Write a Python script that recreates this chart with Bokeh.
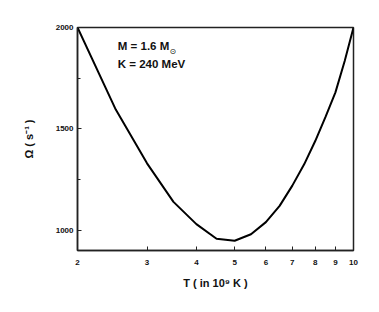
from bokeh.plotting import figure
from bokeh.models import FixedTicker, PrintfTickFormatter, Label, Range1d
from bokeh.embed import file_html
from bokeh.resources import INLINE

T = [2, 2.5, 3, 3.5, 4, 4.5, 5, 5.5, 6, 6.5, 7, 7.5, 8, 8.5, 9, 9.5, 10]
omega = [2000, 1595, 1330, 1140, 1030, 958, 948, 980, 1040, 1120, 1220, 1325, 1440, 1560, 1680, 1835, 2000]
x_ticks = [2, 3, 4, 5, 6, 7, 8, 9, 10]
y_ticks = [1000, 1500, 2000]
y_minor = [1250, 1750]

FONT = "Liberation Sans"

p = figure(width=375, height=304, x_axis_type="log", output_backend="svg",
           toolbar_location=None, x_range=Range1d(2, 10), y_range=Range1d(900, 2000),
           min_border_left=77, min_border_right=22, min_border_top=27, min_border_bottom=54)
p.xgrid.visible = False
p.ygrid.visible = False
p.outline_line_color = "#222222"
p.outline_line_width = 1.5
p.background_fill_color = "white"
p.border_fill_color = "white"

p.line(T, omega, line_color="black", line_width=2)

p.xaxis.ticker = FixedTicker(ticks=x_ticks, minor_ticks=[])
p.xaxis.formatter = PrintfTickFormatter(format="%d")
p.yaxis.ticker = FixedTicker(ticks=y_ticks, minor_ticks=y_minor)

for ax in (p.xaxis[0], p.yaxis[0]):
    ax.axis_line_color = "#222222"
    ax.axis_line_width = 1.5
    ax.major_tick_line_color = "#222222"
    ax.minor_tick_line_color = "#222222"
    ax.major_tick_line_width = 1
    ax.minor_tick_line_width = 1
    ax.major_tick_in = 4
    ax.major_tick_out = 0
    ax.minor_tick_in = 3
    ax.minor_tick_out = 0
    ax.major_label_text_font = FONT
    ax.major_label_text_font_style = "bold"
    ax.major_label_text_font_size = "8px"
    ax.major_label_text_color = "#111111"
    ax.axis_label_text_font = FONT
    ax.axis_label_text_font_style = "bold"
    ax.axis_label_text_font_size = "11px"
    ax.axis_label_text_color = "#111111"

p.xaxis.axis_label = "T ( in 10\u2079 K )"
p.yaxis.axis_label = "\u03a9 ( s\u207b\u00b9 )"
p.xaxis.major_label_standoff = 9
p.yaxis.major_label_standoff = 4
p.xaxis.axis_label_standoff = 9
p.yaxis.axis_label_standoff = 18

p.add_layout(Label(x=2.53, y=1908, text="M = 1.6 M", text_font=FONT, text_font_style="bold",
                   text_font_size="11.5px", text_color="#111111", text_baseline="alphabetic"))
p.add_layout(Label(x=3.42, y=1882, text="\u2299", text_font="DejaVu Sans",
                   text_font_size="8px", text_color="#111111", text_baseline="alphabetic"))
p.add_layout(Label(x=2.53, y=1818, text="K = 240 MeV", text_font=FONT, text_font_style="bold",
                   text_font_size="11.5px", text_color="#111111", text_baseline="alphabetic"))

open("out.html", "w").write(file_html(p, INLINE))
